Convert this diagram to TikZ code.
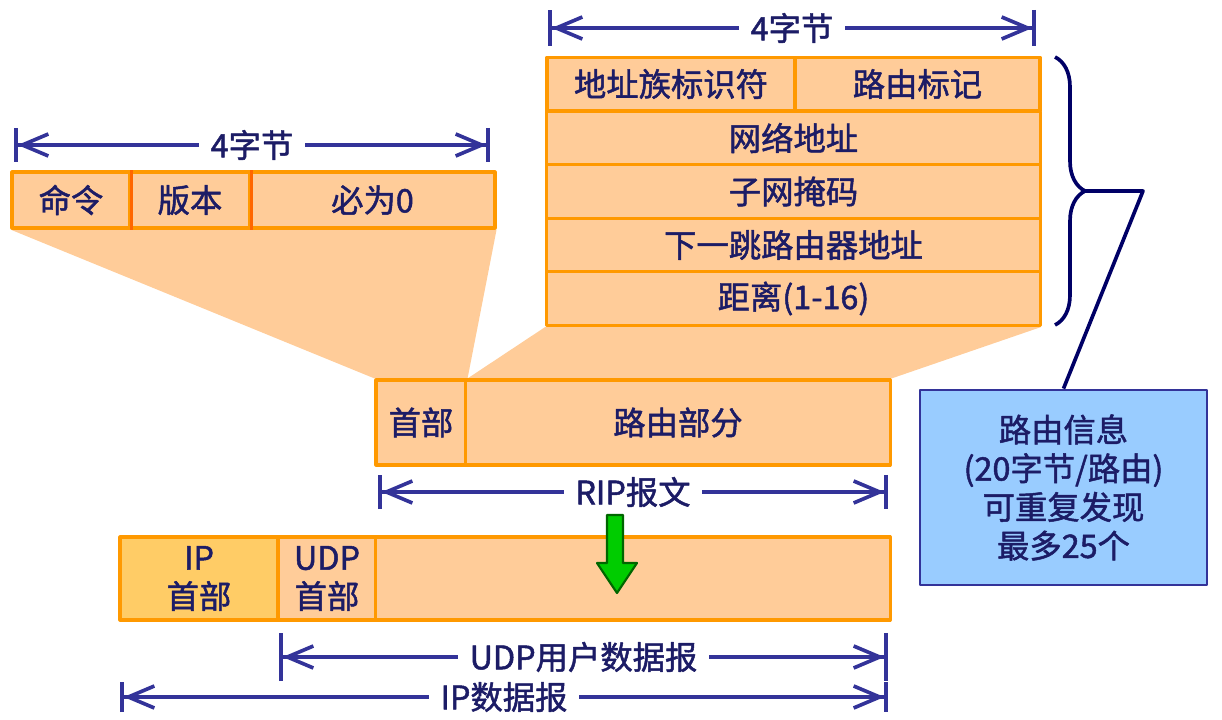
\documentclass[tikz,border=0pt]{standalone}
\usepackage{fontspec}
\newfontfamily\cjk{Noto Sans CJK SC}[AutoFakeBold=1.5]
\usetikzlibrary{arrows.meta, decorations.pathreplacing, backgrounds}
\definecolor{cellfill}{HTML}{FFCC99}
\definecolor{cellline}{HTML}{FF9900}
\definecolor{celldiv}{HTML}{FF6600}
\definecolor{iphead}{HTML}{FFCC66}
\definecolor{txt}{HTML}{1C1C66}
\definecolor{dimc}{HTML}{333399}
\definecolor{bracec}{HTML}{000066}
\definecolor{infofill}{HTML}{99CCFF}
\definecolor{greenfill}{HTML}{00CC00}
\definecolor{greenline}{HTML}{006600}
\begin{document}
\begin{tikzpicture}[x=0.025cm, y=-0.025cm, font=\cjk\bfseries\fontsize{23}{27.5}\selectfont, text=txt, line join=round,
	cell/.style={draw=cellline, fill=cellfill, line width=2.2pt, inner sep=0pt, align=center},
	divline/.style={draw=celldiv, line width=2.2pt},
	dimline/.style={draw=dimc, line width=2.6pt, arrows={{Bar[width=#1]Straight Barb[length=0.65cm,width=0.55cm]}-{Straight Barb[length=0.65cm,width=0.55cm]Bar[width=#1]}}},
	dimlabel/.style={fill=white, inner xsep=8pt, inner ysep=1pt}]
\useasboundingbox (0,0) rectangle (1222,720);
\node[cell, minimum width=2.95cm, minimum height=1.4cm] (cmd) at (71,200) {命令};
\node[cell, minimum width=3cm, minimum height=1.4cm] (ver) at (190,200) {版本};
\node[cell, minimum width=6.125cm, minimum height=1.4cm] (zero) at (372.5,200) {必为0};
\draw[divline] (cmd.north east) -- (cmd.south east);
\draw[divline] (ver.north east) -- (ver.south east);
\node[cell, minimum width=6.2cm, minimum height=1.34cm] (famid) at (671,84) {地址族标识符};
\node[cell, minimum width=6.125cm, minimum height=1.34cm] (tag) at (917.5,84) {路由标记};
\node[cell, minimum width=12.325cm, minimum height=1.34cm] (net) at (793.5,138) {网络地址};
\node[cell, minimum width=12.325cm, minimum height=1.34cm] (mask) at (793.5,191.5) {子网掩码};
\node[cell, minimum width=12.325cm, minimum height=1.34cm] (hop) at (793.5,245) {下一跳路由器地址};
\node[cell, minimum width=12.325cm, minimum height=1.34cm] (dist) at (793.5,298.5) {距离(1-16)};
\node[cell, minimum width=2.25cm, minimum height=2.125cm] (head) at (421,422.5) {首部};
\node[cell, minimum width=10.6cm, minimum height=2.125cm] (part) at (678,422.5) {路由部分};
\node[cell, fill=iphead, minimum width=3.95cm, minimum height=2.075cm] (iph) at (199,578.5) {IP\\首部};
\node[cell, minimum width=2.45cm, minimum height=2.075cm] (udph) at (327,578.5) {UDP\\首部};
\node[cell, minimum width=12.85cm, minimum height=2.075cm] (data) at (633,578.5) {};
\begin{scope}[on background layer]
\fill[cellfill] (cmd.south west) -- (zero.south east) -- (head.north east) -- (head.north west) -- cycle;
\fill[cellfill] (famid.south west |- dist.south) -- (dist.south east) -- (part.north east) -- (head.north east) -- cycle;
\end{scope}
\draw[greenline, fill=greenfill, line width=1.5pt] (607,515) -- (623,515) -- (623,563) -- (637,563) -- (617,593) -- (597,563) -- (607,563) -- cycle;
\coordinate (tlL) at (14,145);
\coordinate (tlR) at (490,145);
\coordinate (trL) at (548,28);
\coordinate (trR) at (1036,28);
\coordinate (ripL) at (378,492);
\coordinate (ripR) at (888,492);
\coordinate (udpL) at (279,657);
\coordinate (udpR) at (888,657);
\coordinate (ipL) at (120,697);
\coordinate (ipR) at (888,697);
\draw[dimline=0.85cm] (tlL) -- (tlR) node[dimlabel, midway] (tlbytes) {4字节};
\draw[dimline=0.9cm] (trL) -- (trR) node[dimlabel, midway] (trbytes) {4字节};
\draw[dimline=0.85cm] (ripL) -- (ripR) node[dimlabel, midway] (riplabel) {RIP报文};
\draw[dimline=1.2cm] (udpL) -- (udpR) node[dimlabel, midway] (udplabel) {UDP用户数据报};
\draw[dimline=0.75cm] (ipL) -- (ipR) node[dimlabel, midway] (iplabel) {IP数据报};
\node[draw=dimc, fill=infofill, line width=2pt, minimum width=7.175cm, minimum height=4.875cm, align=center] (info) at (1063.5,487.5) {路由信息\\(20字节/路由)\\可重复发现\\最多25个};
\coordinate (bt) at (1055,57);
\coordinate (bb) at (1055,325);
\coordinate (btip) at (1085,191);
\coordinate (bend) at (1143,191);
\draw[bracec, line width=2.6pt, decorate, decoration={brace, amplitude=0.75cm}] (bt) -- (bb);
\draw[bracec, line width=2.6pt] (btip) -- (bend) -- (info.north);
\end{tikzpicture}
\end{document}
